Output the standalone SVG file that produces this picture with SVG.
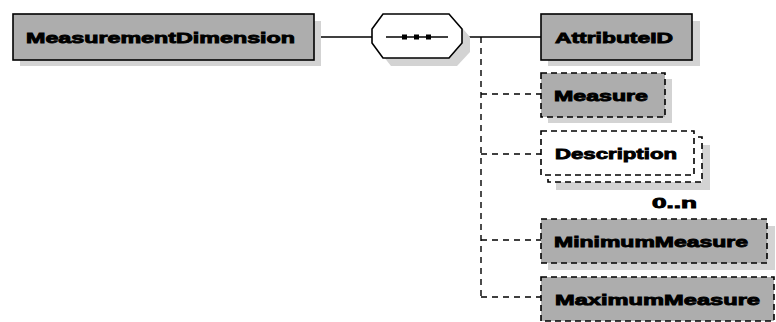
<svg xmlns="http://www.w3.org/2000/svg" width="776" height="322" viewBox="0 0 776 322">
<style>
.box{fill:#adadad;stroke:#000;stroke-width:1.6}
.opt{fill:#adadad;stroke:#000;stroke-width:1.6;stroke-dasharray:6 4}
.optw{fill:#fff;stroke:#000;stroke-width:1.6;stroke-dasharray:6 4}
.sh{fill:#d3d3d3;stroke:none}
.t{font-family:"Liberation Sans",Arial,sans-serif;font-weight:bold;font-size:15.5px;fill:#000;stroke:#000;stroke-width:0.9}
.c{fill:none;stroke:#000;stroke-width:1.4}
.cd{fill:none;stroke:#000;stroke-width:1.4;stroke-dasharray:6 5}
</style>
<rect width="776" height="322" fill="#fff"/>
<g id="connectors">
<line class="c" x1="314" y1="37" x2="372" y2="37"/>
<line class="c" x1="462" y1="37" x2="541" y2="37"/>
<line class="cd" x1="481" y1="37" x2="481" y2="297"/>
<line class="cd" x1="481" y1="94" x2="541" y2="94"/>
<line class="cd" x1="481" y1="154" x2="541" y2="154"/>
<line class="cd" x1="481" y1="240" x2="541" y2="240"/>
<line class="cd" x1="481" y1="297" x2="541" y2="297"/>
</g>
<g id="MeasurementDimension">
<rect class="sh" x="20" y="21" width="301" height="45"/>
<rect class="box" x="13" y="14" width="301" height="46"/>
<text class="t" x="26" y="43" textLength="269" lengthAdjust="spacingAndGlyphs">MeasurementDimension</text>
</g>
<g id="sequence">
<polygon class="sh" points="391,22 457,22 470,37 470,52 457,66 391,66 380,52 380,37"/>
<polygon fill="#fff" stroke="#000" stroke-width="1.6" points="383,14 449,14 462,29 462,43 449,58 383,58 372,43 372,29"/>
<line class="c" x1="386" y1="37" x2="448" y2="37"/>
<rect x="402" y="34.5" width="5" height="5" fill="#000"/>
<rect x="414" y="34.5" width="5" height="5" fill="#000"/>
<rect x="426" y="34.5" width="5" height="5" fill="#000"/>
</g>
<g id="AttributeID">
<rect class="sh" x="548" y="21" width="152" height="45"/>
<rect class="box" x="541" y="14" width="151" height="46"/>
<text class="t" x="555" y="43" textLength="118" lengthAdjust="spacingAndGlyphs">AttributeID</text>
</g>
<g id="Measure">
<rect class="sh" x="548" y="79" width="124" height="44"/>
<rect class="opt" x="541" y="73" width="124" height="44"/>
<text class="t" x="554" y="100.5" textLength="94" lengthAdjust="spacingAndGlyphs">Measure</text>
</g>
<g id="Description">
<rect class="sh" x="556" y="145" width="154" height="45"/>
<rect class="optw" x="548" y="137" width="154" height="45"/>
<rect class="optw" x="541" y="131" width="153" height="44"/>
<text class="t" x="555" y="159" textLength="122" lengthAdjust="spacingAndGlyphs">Description</text>
<text class="t" x="652" y="208" textLength="45" lengthAdjust="spacingAndGlyphs">0..n</text>
</g>
<g id="MinimumMeasure">
<rect class="sh" x="548" y="226" width="227" height="44"/>
<rect class="opt" x="541" y="219" width="226" height="44"/>
<text class="t" x="554" y="246.5" textLength="194" lengthAdjust="spacingAndGlyphs">MinimumMeasure</text>
</g>
<g id="MaximumMeasure">
<rect class="opt" x="541" y="277" width="233" height="44"/>
<text class="t" x="555" y="304.5" textLength="205" lengthAdjust="spacingAndGlyphs">MaximumMeasure</text>
</g>
</svg>
